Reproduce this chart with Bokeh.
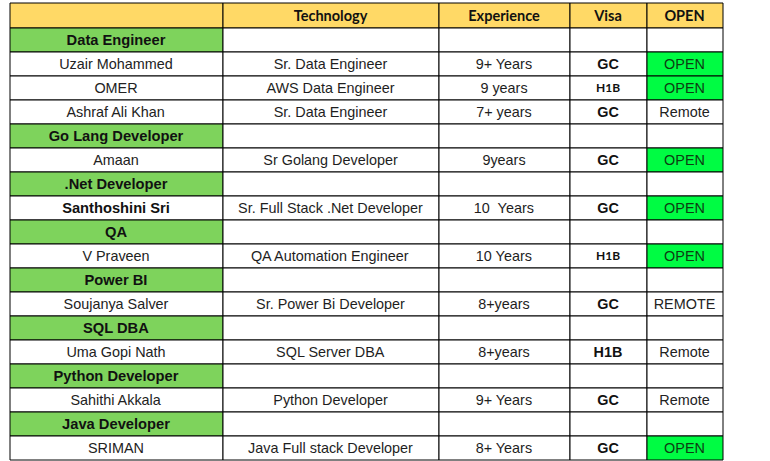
from bokeh.plotting import figure
from bokeh.models import Range1d, ColumnDataSource
from bokeh.core.properties import value
from bokeh.embed import file_html
from bokeh.resources import INLINE

# ---- data ----
header = ["", "Technology", "Experience", "Visa", "OPEN"]
names = ["Data Engineer", "Uzair Mohammed", "OMER", "Ashraf Ali Khan",
         "Go Lang Developer", "Amaan", ".Net Developer", "Santhoshini Sri",
         "QA", "V Praveen", "Power BI", "Soujanya Salver", "SQL DBA",
         "Uma Gopi Nath", "Python Developer", "Sahithi Akkala",
         "Java Developer", "SRIMAN"]
is_category = [True, False, False, False, True, False, True, False, True,
               False, True, False, True, False, True, False, True, False]
technology = ["", "Sr. Data Engineer", "AWS Data Engineer", "Sr. Data Engineer",
              "", "Sr Golang Developer", "", "Sr. Full Stack .Net Developer",
              "", "QA Automation Engineer", "", "Sr. Power Bi Developer",
              "", "SQL Server DBA", "", "Python Developer", "",
              "Java Full stack Developer"]
experience = ["", "9+ Years", "9 years", "7+ years", "", "9years", "",
              "10\u00a0 Years", "", "10 Years", "", "8+years", "", "8+years",
              "", "9+ Years", "", "8+ Years"]
visa = ["", "GC", "H1B", "GC", "", "GC", "", "GC", "", "H1B", "", "GC",
        "", "H1B", "", "GC", "", "GC"]
visa_small = [False, False, True, False, False, False, False, False, False,
              True, False, False, False, False, False, False, False, False]
status = ["", "OPEN", "OPEN", "Remote", "", "OPEN", "", "OPEN", "", "OPEN",
          "", "REMOTE", "", "Remote", "", "Remote", "", "OPEN"]
bold_names = ["Santhoshini Sri"]

# ---- layout (pixel units) ----
col_edges = [9, 222, 438, 569, 646, 722]
table_top = 2.5
header_h = 25
row_h = 24
n_rows = len(names)

YELLOW = "#ffd966"
GREEN = "#7ed35c"
BRIGHT = "#00fc43"

W, H = 770, 461
p = figure(width=W, height=H, output_backend="svg", toolbar_location=None,
           x_range=Range1d(0, W), y_range=Range1d(H, 0),
           min_border=0, outline_line_color=None)
p.axis.visible = False
p.grid.visible = False
p.background_fill_color = "white"
p.border_fill_color = "white"

row_tops = [table_top] + [table_top + header_h + i * row_h for i in range(n_rows)]
row_bots = [table_top + header_h] + [table_top + header_h + (i + 1) * row_h
                                     for i in range(n_rows)]

cells = dict(left=[], right=[], top=[], bottom=[], fill=[])
def add_cell(c, r, fill):
    cells["left"].append(col_edges[c] + 0.5)
    cells["right"].append(col_edges[c + 1] + 0.5)
    cells["top"].append(row_tops[r])
    cells["bottom"].append(row_bots[r])
    cells["fill"].append(fill)

for c in range(5):
    add_cell(c, 0, YELLOW)
for i in range(n_rows):
    r = i + 1
    add_cell(0, r, GREEN if is_category[i] else "white")
    for c in range(1, 5):
        fill = "white"
        if c == 4 and status[i] == "OPEN":
            fill = BRIGHT
        add_cell(c, r, fill)

p.quad(left="left", right="right", top="top", bottom="bottom",
       fill_color="fill", line_color="black", line_width=1,
       source=ColumnDataSource(cells))

def centers(c):
    return (col_edges[c] + col_edges[c + 1]) / 2

texts = dict(x=[], y=[], t=[], font=[], size=[], style=[], color=[])
def add_text(c, r, t, font, size, style, color="#1e1e1e"):
    if not t:
        return
    texts["x"].append(centers(c))
    texts["y"].append((row_tops[r] + row_bots[r]) / 2 - 0.5)
    texts["t"].append(t)
    texts["font"].append(font)
    texts["size"].append(size)
    texts["style"].append(style)
    texts["color"].append(color)

for c in range(5):
    add_text(c, 0, header[c], "Lato", "14.5px", "bold", "#111111")
for i in range(n_rows):
    r = i + 1
    bold = is_category[i] or names[i] in bold_names
    add_text(0, r, names[i], "Liberation Sans", "14.7px" if bold else "14.4px",
             "bold" if bold else "normal", "#111111" if bold else "#222222")
    add_text(1, r, technology[i], "Liberation Sans", "14.4px", "normal")
    add_text(2, r, experience[i], "Liberation Sans", "14.4px", "normal")
    if visa_small[i]:
        add_text(3, r, visa[i], "Lato", "12px", "bold", "#111111")
    else:
        add_text(3, r, visa[i], "Liberation Sans", "14.4px", "bold", "#111111")
    add_text(4, r, status[i], "Liberation Sans", "14.4px", "normal",
             "#0d3d12" if status[i] == "OPEN" else "#222222")

p.text(x="x", y="y", text="t", text_font="font", text_font_size="size",
       text_font_style="style", text_color="color",
       text_align="center", text_baseline="middle",
       source=ColumnDataSource(texts))

open("out.html", "w").write(file_html(p, INLINE))
